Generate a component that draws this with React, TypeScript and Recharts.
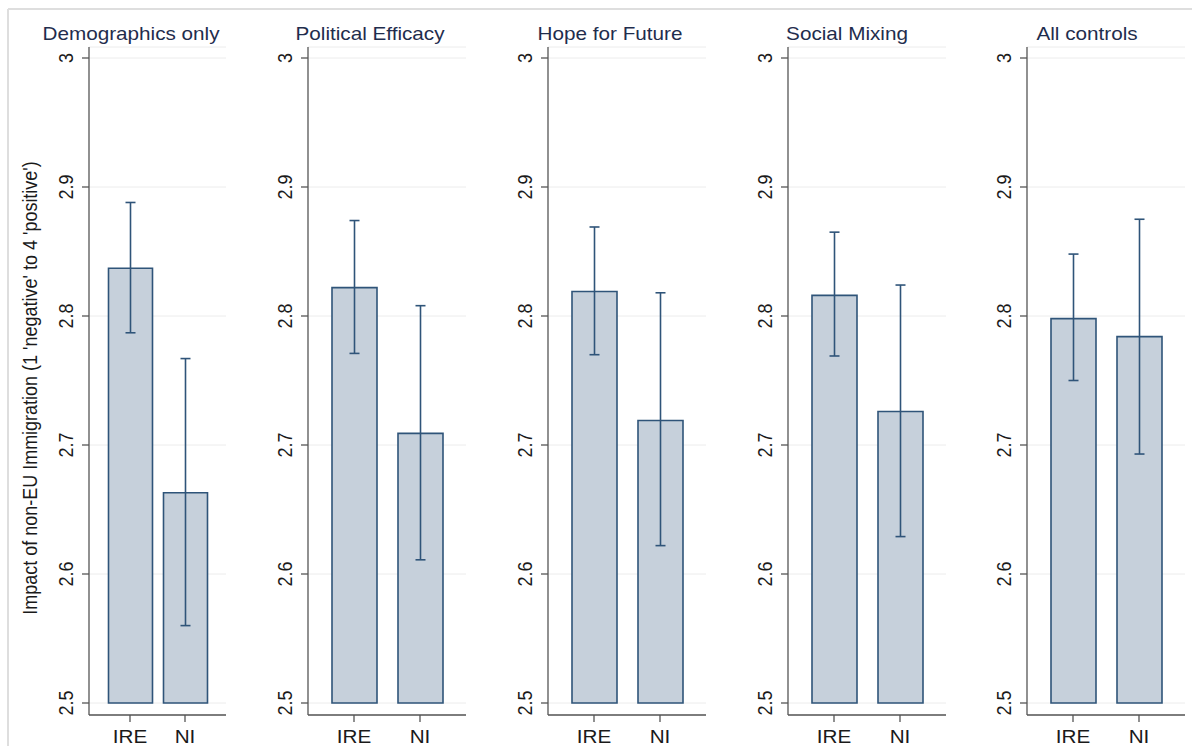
import React from "react";
import { BarChart, Bar, XAxis, YAxis, CartesianGrid, ErrorBar } from "recharts";

const categories = ["IRE", "NI"];
const panelTitles = [
  "Demographics only",
  "Political Efficacy",
  "Hope for Future",
  "Social Mixing",
  "All controls",
];
const ireMean = [2.837, 2.822, 2.819, 2.816, 2.798];
const ireLow = [2.787, 2.771, 2.77, 2.769, 2.75];
const ireHigh = [2.888, 2.874, 2.869, 2.865, 2.848];
const niMean = [2.663, 2.709, 2.719, 2.726, 2.784];
const niLow = [2.56, 2.611, 2.622, 2.629, 2.693];
const niHigh = [2.767, 2.808, 2.818, 2.824, 2.875];
const yTicks = [2.5, 2.6, 2.7, 2.8, 2.9, 3];
const yTitle = "Impact of non-EU Immigration (1 'negative' to 4 'positive')";

// layout of each panel (axis x, plot width, title centre)
const axisX = [89, 308, 548, 788, 1027];
const plotW = [137, 158, 158, 158, 158];
const titleX = [131, 370, 610, 847, 1087];

const FONT = "'Liberation Sans', Arial, sans-serif";
const BAR_FILL = "#c6d0db";
const BAR_STROKE = "#2f5479";
const AXIS = "#555555";

function YTick(props: any) {
  const { x, y, payload } = props;
  return (
    <g transform={`translate(${x - 7},${y}) scale(1.15,1)`}>
      <text
        transform="rotate(-90)"
        textAnchor="middle"
        fontSize={18}
        fontFamily={FONT}
        fill="#1a1a1a"
      >
        {String(payload.value)}
      </text>
    </g>
  );
}

function XTick(props: any) {
  const { x, y, payload } = props;
  return (
    <g transform={`translate(${x},${y + 19}) scale(1.15,1)`}>
      <text textAnchor="middle" fontSize={18} fontFamily={FONT} fill="#1a1a1a">
        {payload.value}
      </text>
    </g>
  );
}

function Panel({ i }: { i: number }) {
  const data = categories.map((c, k) => {
    const mean = k === 0 ? ireMean[i] : niMean[i];
    const lo = k === 0 ? ireLow[i] : niLow[i];
    const hi = k === 0 ? ireHigh[i] : niHigh[i];
    return { name: c, value: mean, err: [mean - lo, hi - mean] };
  });
  const w = plotW[i];
  const pad = i === 0 ? 13.5 : 13;
  return (
    <div style={{ position: "absolute", left: axisX[i] - 60, top: 0 }}>
      <BarChart
        width={60 + w + 5}
        height={746}
        data={data}
        margin={{ top: 47, right: 5, bottom: 1, left: 10 }}
      >
        <CartesianGrid horizontal vertical={false} stroke="#ececec" />
        <XAxis
          dataKey="name"
          height={30}
          padding={{ left: pad, right: pad }}
          tickSize={7}
          tick={<XTick />}
          axisLine={{ stroke: AXIS, strokeWidth: 1.3 }}
          tickLine={{ stroke: AXIS, strokeWidth: 1.3 }}
          interval={0}
        />
        <YAxis
          type="number"
          width={50}
          domain={[2.5, 3]}
          ticks={yTicks}
          padding={{ top: 11, bottom: 12 }}
          tickSize={7}
          tick={<YTick />}
          axisLine={{ stroke: AXIS, strokeWidth: 1.3 }}
          tickLine={{ stroke: AXIS, strokeWidth: 1.3 }}
          interval={0}
        />
        <Bar
          dataKey="value"
          barSize={i === 0 ? 44 : 45}
          fill={BAR_FILL}
          stroke={BAR_STROKE}
          strokeWidth={1.6}
          isAnimationActive={false}
        >
          <ErrorBar
            dataKey="err"
            width={5}
            stroke={BAR_STROKE}
            strokeWidth={1.6}
            isAnimationActive={false}
          />
        </Bar>
      </BarChart>
    </div>
  );
}

export default function App() {
  return (
    <div
      style={{
        position: "absolute",
        left: 0,
        top: 0,
        width: 1192,
        height: 746,
        background: "#ffffff",
        overflow: "hidden",
      }}
    >
      {panelTitles.map((_, i) => (
        <Panel key={i} i={i} />
      ))}
      <svg
        width={1192}
        height={746}
        style={{ position: "absolute", left: 0, top: 0, pointerEvents: "none" }}
      >
        <line x1={8} y1={9} x2={1192} y2={9} stroke="#dedede" strokeWidth={2} />
        <line x1={8} y1={9} x2={8} y2={746} stroke="#dedede" strokeWidth={2} />
        {panelTitles.map((t, i) => (
          <g key={t} transform={`translate(${titleX[i]},40) scale(1.15,1)`}>
            <text textAnchor="middle" fontSize={18} fontFamily={FONT} fill="#1f2d4d">
              {t}
            </text>
          </g>
        ))}
        <g transform="translate(37,388) scale(1.1,1)">
          <text
            transform="rotate(-90)"
            textAnchor="middle"
            fontSize={18}
            fontFamily={FONT}
            fill="#1a1a1a"
          >
            {yTitle}
          </text>
        </g>
      </svg>
    </div>
  );
}
